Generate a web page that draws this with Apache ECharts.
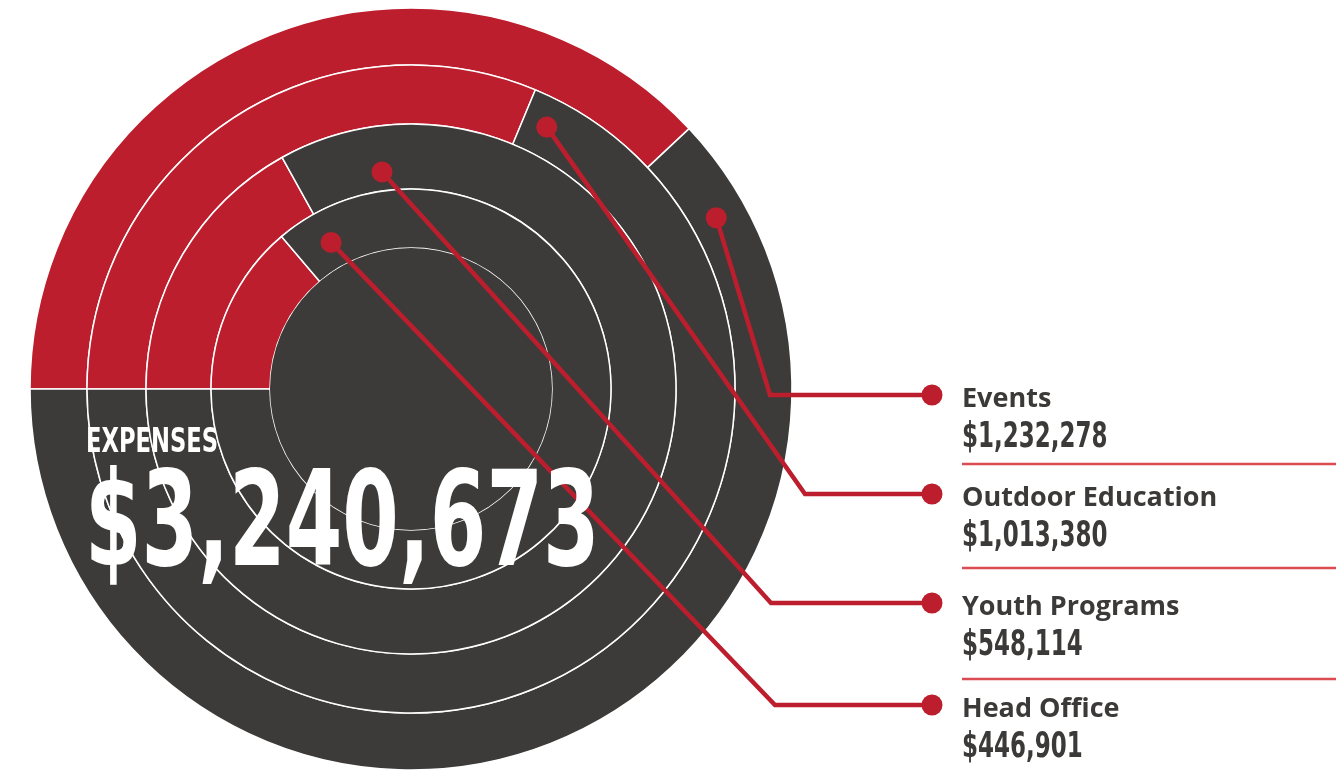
<!DOCTYPE html>
<html>
<head>
<meta charset="utf-8">
<title>Expenses</title>
<script src="https://cdn.jsdelivr.net/npm/echarts@6/dist/echarts.min.js"></script>
<style>
  html, body { margin: 0; padding: 0; background: #fff; }
  #chart { width: 1341px; height: 774px; }
</style>
</head>
<body>
<div id="chart"></div>
<script>
// data
const categories = ['Events', 'Outdoor Education', 'Youth Programs', 'Head Office']
const expenses = [1232278, 1013380, 548114, 446901]
const totalTitle = 'EXPENSES'

// layout
const RED = '#BC1E2D'
const DARK = '#3D3B39'
const TEXT = '#3B3A39'
const center = [411, 389]
const ringRadii = [381, 324, 265, 200, 141] // outer -> inner
const dotPolar = [[29.3, 350], [62.6, 295], [97.6, 219], [118.6, 167]] // deg, px
const rowY = [395, 494, 603, 705]
const elbowX = [770, 805, 771, 775]
const endX = 932
const labelX = 962
const sepY = [464, 568, 679]

const total = expenses.reduce((a, b) => a + b, 0)
const money = v => '$' + v.toLocaleString('en-US')
const narrow = "'DejaVu Sans Condensed', 'DejaVu Sans', sans-serif"

const series = categories.map((name, i) => ({
  type: 'pie',
  center: center,
  radius: [ringRadii[i + 1], ringRadii[i]],
  startAngle: 180,
  clockwise: true,
  silent: true,
  animation: false,
  label: { show: false },
  labelLine: { show: false },
  emphasis: { disabled: true },
  itemStyle: { borderColor: '#fff', borderWidth: 1.5 },
  data: [
    { name: name, value: expenses[i], itemStyle: { color: RED } },
    { name: 'rest', value: total - expenses[i], itemStyle: { color: DARK } }
  ]
}))
// inner disc = total
series.push({
  type: 'pie',
  center: center,
  radius: [0, ringRadii[4]],
  silent: true,
  animation: false,
  label: { show: false },
  labelLine: { show: false },
  emphasis: { disabled: true },
  itemStyle: { color: DARK, borderWidth: 0 },
  data: [{ name: totalTitle, value: total }]
})

function txt(x, y, sx, text, font, fill, z) {
  return {
    type: 'text', silent: true, z: z, x: x, y: y, scaleX: sx,
    style: { text: text, fill: fill, font: font, align: 'left', verticalAlign: 'middle', textAlign: 'left', textVerticalAlign: 'middle' }
  }
}

const graphic = []
categories.forEach((name, i) => {
  const a = dotPolar[i][0] * Math.PI / 180
  const px = center[0] + dotPolar[i][1] * Math.cos(a)
  const py = center[1] - dotPolar[i][1] * Math.sin(a)
  graphic.push({
    type: 'polyline', silent: true, z: 10,
    shape: { points: [[px, py], [elbowX[i], rowY[i]], [endX, rowY[i]]] },
    style: { stroke: RED, lineWidth: 4.5, fill: null, lineJoin: 'miter' }
  })
  graphic.push({ type: 'circle', silent: true, z: 11, shape: { cx: px, cy: py, r: 10.5 }, style: { fill: RED } })
  graphic.push({ type: 'circle', silent: true, z: 11, shape: { cx: endX, cy: rowY[i], r: 10.5 }, style: { fill: RED } })
  graphic.push(txt(labelX, rowY[i] + 4, 1, name, "bold 27px 'Open Sans', sans-serif", TEXT, 11))
  graphic.push(txt(labelX, rowY[i] + 43, 0.73, money(expenses[i]), 'bold 35px ' + narrow, TEXT, 11))
})
sepY.forEach(y => {
  graphic.push({
    type: 'line', silent: true,
    shape: { x1: labelX, y1: y, x2: 1336, y2: y },
    style: { stroke: '#DC4A52', lineWidth: 2.5 }
  })
})
graphic.push(txt(86, 443, 0.74, totalTitle, 'bold 34px ' + narrow, '#fff', 12))
graphic.push(txt(85, 531, 0.685, money(total), 'bold 132px ' + narrow, '#fff', 12))

const chart = echarts.init(document.getElementById('chart'))
chart.setOption({
  animation: false,
  series: series,
  graphic: graphic
})
</script>
</body>
</html>
